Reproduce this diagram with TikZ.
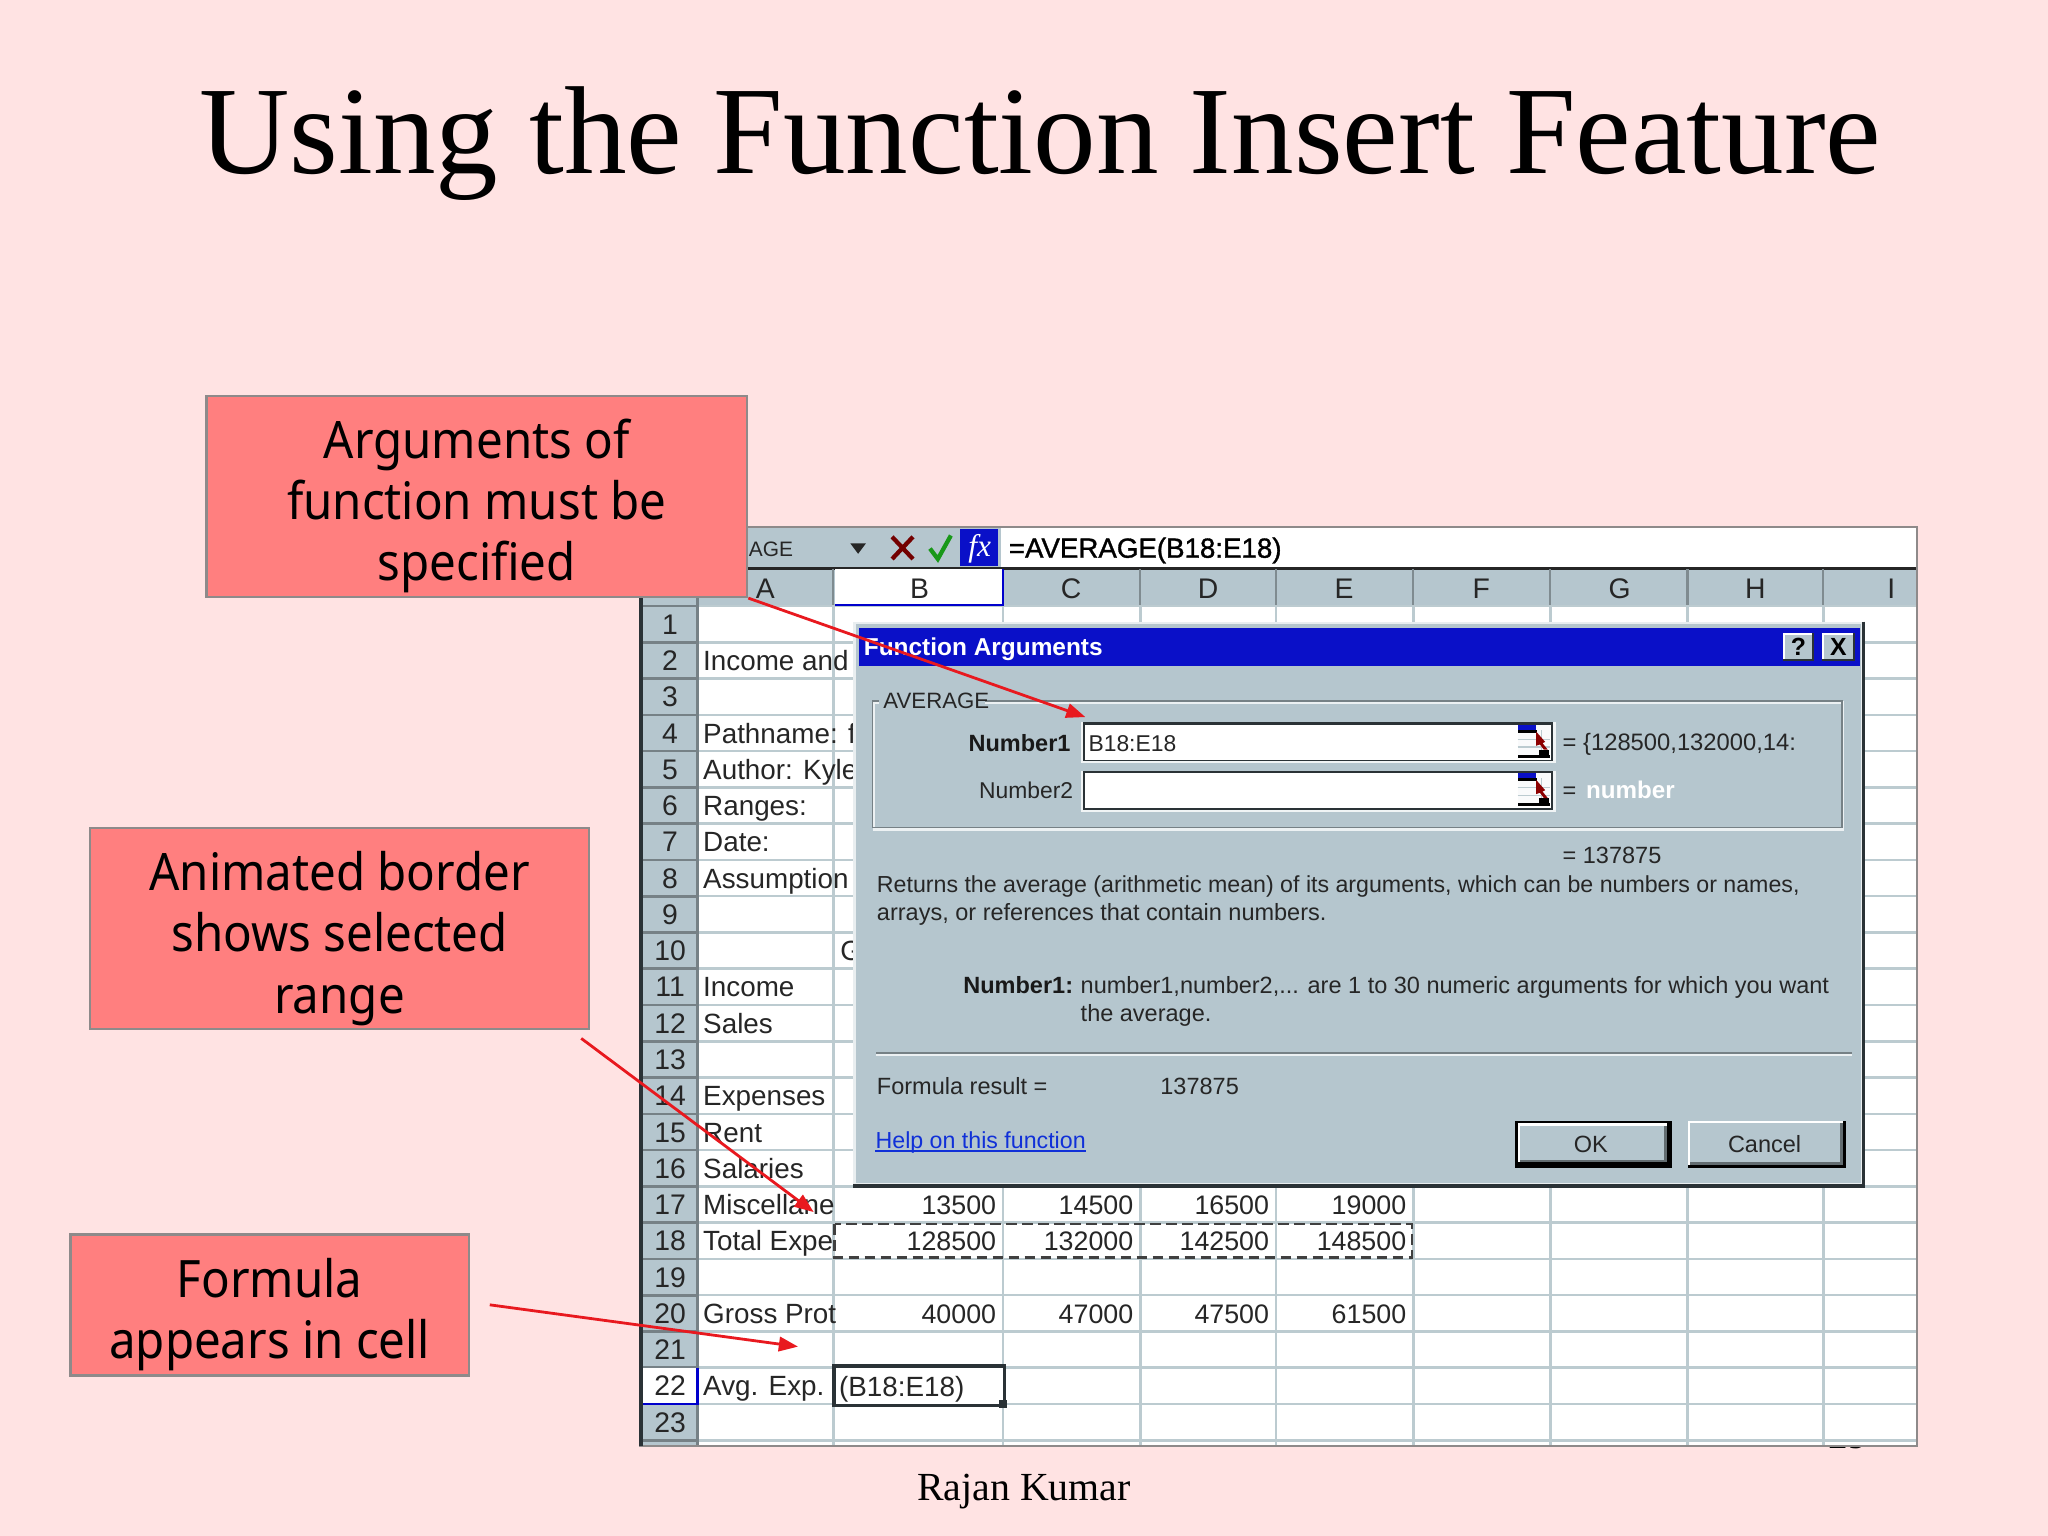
\documentclass[tikz,border=0pt]{standalone}
\usepackage{fontspec}
\usetikzlibrary{arrows.meta}
\setmainfont{Liberation Sans}
\newfontfamily\timesf{Liberation Serif}
\newfontfamily\callf[FakeStretch=0.92]{Noto Sans}
\newfontfamily\fakeb[FakeBold=1.2]{Liberation Sans}
\newcommand\fs[1]{\fontsize{\fpeval{#1*0.489796}pt}{\fpeval{#1*0.489796*1.17}pt}\selectfont}
\newcommand\fsl[2]{\fontsize{\fpeval{#1*0.489796}pt}{\fpeval{#2*0.489796}pt}\selectfont}
\newcommand\topadj{\rule{0pt}{22pt}}
\definecolor{slidebg}{HTML}{FFE3E3}
\definecolor{callfill}{HTML}{FF7F7F}
\definecolor{callline}{HTML}{8E8A8A}
\definecolor{xlgrey}{HTML}{B5C6CE}
\definecolor{xlgrid}{HTML}{BCCBD0}
\definecolor{xldark}{HTML}{2A3236}
\definecolor{tbar}{HTML}{0A10C8}
\definecolor{arrred}{HTML}{E8191F}
\definecolor{lnk}{HTML}{1030D8}
\tikzset{
  every node/.style={inner sep=0pt},
  callout/.style 2 args={draw=callline,fill=callfill,line width=0.9pt,minimum width={#1*0.489796pt},minimum height={#2*0.489796pt},align=center,font=\callf\fsl{39.5}{47},text=black},
  redarrow/.style={draw=arrred,line width=1.05pt,-{Triangle[length=7.2pt,width=5.4pt]}},
  celltxt/.style={anchor=base west,font=\fs{21.3},text=black!85},
  cellnum/.style={anchor=base east,font=\fs{20.5},text=black!85},
  hdr/.style={anchor=base,font=\fs{21.7},text=black!85},
  dlg/.style={anchor=base west,font=\fs{18},text=black!85},
  dlgb/.style={anchor=base east,font=\fs{18}\bfseries,text=black!90},
  gridline/.style={draw=xlgrid,line width=0.95pt},
}
\newcommand\refedit[2]{%
  \begin{scope}[shift={(#1,#2)}]
    \fill[white!92!xlgrey] (0,0) rectangle (25,25);
    \fill[tbar] (0,0) rectangle (14,4);
    \fill[black] (0,4) rectangle (15,6);
    \draw[xlgrid,line width=0.5pt] (0,11) -- (25,11) (0,17) -- (25,17) (18,4) -- (18,24);
    \fill[black] (0,23) rectangle (25,25);
    \fill[black] (16,19) rectangle (24,23);
    \fill[red!55!black] (14,5) -- (21,13) -- (19,14) -- (23,19) -- (20,19) -- (17,15) -- (14,16) -- cycle;
  \end{scope}}
\begin{document}
\begin{tikzpicture}[x=0.489796pt,y=-0.489796pt]
\useasboundingbox (0,0) rectangle (1568,1176);
\fill[slidebg] (0,0) rectangle (1568,1176);
% slide text
\node (title) at (796.5,133) [anchor=base,font=\timesf\fs{95.8},text=black] {Using the Function Insert Feature};
\node (author) at (784,1148.5) [anchor=base,font=\timesf\fs{30.5},text=black] {Rajan Kumar};
\node (pageno) at (1415,1109) [anchor=base,font=\timesf\fs{30},text=black] {29};
% spreadsheet frame
\fill[white] (489,403) rectangle (1468,1107);
\fill[xlgrey] (489,404) rectangle (766,434);
\draw[callline,line width=0.8pt] (489,403.5) -- (1468,403.5) -- (1468,1107) -- (489,1107);
\fill[xlgrey] (491,436) rectangle (1467,463);
\draw[black!85,line width=1.1pt] (491,435) -- (1467,435);
\fill[xlgrey] (492,436) rectangle (534,1106);
\fill[xldark] (489,436) rectangle (492,1107);
% grid
\foreach \r in {0,...,23} \draw[gridline] (534,{464+27.77*\r}) -- (1467,{464+27.77*\r});
\foreach \c in {638,768,873,977,1082,1187,1292,1396} \draw[gridline] (\c,464) -- (\c,1106);
\foreach \r in {0,...,23} \draw[draw=black!35!xlgrey,line width=1pt] (492,{464+27.77*\r}) -- (534,{464+27.77*\r});
\draw[draw=black!35!xlgrey,line width=1pt] (534,436) -- (534,1106);
\foreach \c in {638,768,873,977,1082,1187,1292,1396} \draw[draw=black!30!xlgrey,line width=0.8pt] (\c,436) -- (\c,463);
% active headers
\fill[white] (639,436) rectangle (768,463);
\draw[blue!80!black,line width=0.8pt] (639,463) -- (768,463) -- (768,436);
\fill[white] (492,1047) rectangle (534,1075);
\draw[blue!80!black,line width=0.8pt] (492,1075) -- (534,1075) -- (534,1047);
% formula bar
\node (nmbox) at (573,426) [anchor=base west,font=\fs{16},text=black!85] {AGE};
\fill[black!85] (651,416) -- (663,416) -- (657,424) -- cycle;
\draw[red!45!black,line width=1.6pt] (683,411) -- (699,428) (699,411) -- (683,428);
\draw[green!55!black!90,line width=1.6pt] (712,420) -- (718,428) -- (728,410);
\fill[tbar] (735,405) rectangle (764,433);
\node (fxlbl) at (750,426) [anchor=base,font=\timesf\fs{24}\itshape,text=white] {fx};
\node (fbar) at (772,427) [anchor=base west,font=\fakeb\fs{21.2},text=black] {=AVERAGE(B18:E18)};
% column headers
\foreach \t/\x in {A/586,B/704,C/820,D/925,E/1029,F/1134,G/1240,H/1344,I/1448}
  \node (col\t) at (\x,458) [hdr] {\t};
% row headers
\foreach \i in {1,...,23}
  \node (row\i) at (513,{464+27.77*(\i-0.5)+7.7}) [hdr] {\i};
% column A
\foreach \i/\t in {2/Income and,4/Pathname: f,5/Author: Kyle,6/Ranges:,7/Date:,8/Assumption,11/Income,12/Sales,14/Expenses,15/Rent,16/Salaries,17/Miscellane,18/Total Expe,20/Gross Prot,22/Avg. Exp.}
  \node (lbl\i) at (538,{464+27.77*(\i-0.5)+7.7}) [celltxt] {\t};
\node (lblG) at (643,735) [celltxt] {G};
% values
\foreach \x/\v/\k in {763/13500/b,868/14500/c,972/16500/d,1077/19000/e}
  \node (v17\k) at (\x,{464+27.77*16.5+7.7}) [cellnum] {\v};
\foreach \x/\v/\k in {763/128500/b,868/132000/c,972/142500/d,1077/148500/e}
  \node (v18\k) at (\x,{464+27.77*17.5+7.7}) [cellnum] {\v};
\foreach \x/\v/\k in {763/40000/b,868/47000/c,972/47500/d,1077/61500/e}
  \node (v20\k) at (\x,{464+27.77*19.5+7.7}) [cellnum] {\v};
% selection
\draw[black!75,line width=1pt,dash pattern=on 4pt off 2pt] (639,937) rectangle (1081,963);
\fill[white] (639,1047) rectangle (769,1076);
\node (activ) at (642,1069) [celltxt] {(B18:E18)};
\draw[xldark,line width=1.3pt] (638.5,1076) -- (638.5,1046) -- (769,1046) -- (769,1076) -- cycle;
\fill[xldark] (765,1072) rectangle (771,1078);
% dialog
\fill[white!70!xlgrey] (653,476) rectangle (1427,908);
\fill[xlgrey] (655,478) rectangle (1425,906);
\draw[xldark,line width=1.2pt] (1427,476) -- (1427,908) -- (653,908);
\fill[tbar] (658,481) rectangle (1424,510);
\node (dtitle) at (661,501.5) [anchor=base west,font=\fs{18.7}\bfseries,text=white] {Function Arguments};
\foreach \a/\b/\s/\n in {1365/1389/?/hlp,1395/1420/X/cls}{
  \fill[xldark] (\a,485) rectangle (\b,506);
  \fill[white] (\a,485) rectangle ({\b-1.5},504.5);
  \fill[xlgrey] ({\a+1.5},486.5) rectangle ({\b-1.5},504.5);
  \node (\n) at ({(\a+\b)/2},502) [anchor=base,font=\fs{19}\bfseries,text=black] {\s};
}
% group box
\draw[white!75!xlgrey,line width=0.9pt] (669,538) rectangle (1411,635);
\draw[black!35!xlgrey,line width=0.7pt] (668,536.5) -- (1410,536.5) -- (1410,633.5) -- (668,633.5) -- cycle;
\fill[xlgrey] (673,530) rectangle (754,541);
\node (grp) at (676,542.5) [dlg,font=\fs{17}] {AVERAGE};
\node (n1) at (820,575) [dlgb] {Number1};
\node (n2) at (822,611) [anchor=base east,font=\fs{17.5},text=black!85] {Number2};
\foreach \ya/\yb/\yicon in {553/583/555,590/620/592}{
  \fill[white!80!xlgrey] (828,\ya) rectangle (1191,{\yb+1.5});
  \fill[xldark] (829,\ya) rectangle (1189,\yb);
  \fill[white] (830.5,{\ya+2}) rectangle (1187.5,{\yb-1.5});
  \refedit{1162}{\yicon}
}
\node (in1) at (833,575) [dlg,font=\fs{17.5}] {B18:E18};
\node (r1) at (1196,574.5) [dlg,font=\fs{18.2}] {= \{128500,132000,14:};
\node (r2eq) at (1196,611) [dlg] {=};
\node (r2) at (1214,611) [anchor=base west,font=\fs{18.5}\bfseries,text=white] {number};
\node (r3) at (1196,661) [dlg] {= 137875};
\node (d1) at (671,683) [dlg,font=\fs{17.75}] {Returns the average (arithmetic mean) of its arguments, which can be numbers or names,};
\node (d2) at (671,704.5) [dlg] {arrays, or references that contain numbers.};
\node (h1) at (822,761) [dlgb] {Number1:};
\node (h2) at (827,761) [dlg] {number1,number2,... are 1 to 30 numeric arguments for which you want};
\node (h3) at (827,782) [dlg] {the average.};
\draw[black!35!xlgrey,line width=0.7pt] (671,806.5) -- (1418,806.5);
\draw[white!75!xlgrey,line width=0.7pt] (671,808) -- (1418,808);
\node (fr) at (671,838) [dlg] {Formula result =};
\node (fv) at (888,838) [dlg] {137875};
\node (help) at (670,879) [dlg,font=\fs{17.75},text=lnk] {Help on this function};
\draw[lnk,line width=0.6pt] ([yshift=-1pt]help.base west) -- ([yshift=-1pt]help.base east);
% buttons
\fill[black] (1160,858) rectangle (1280,894);
\fill[white] (1162,860) rectangle (1276,890);
\fill[black!45!xlgrey] (1164,862) rectangle (1276,890);
\fill[xlgrey] (1164,862) rectangle (1274,888);
\node (ok) at (1218,882) [anchor=base,font=\fs{18},text=black!85] {OK};
\fill[black] (1292,858) rectangle (1413,894);
\fill[white] (1292,858) rectangle (1411,892);
\fill[black!45!xlgrey] (1294,860) rectangle (1411,892);
\fill[xlgrey] (1294,860) rectangle (1409,890);
\node (cancel) at (1351,882) [anchor=base,font=\fs{18},text=black!85] {Cancel};
% callouts
\node[callout={414}{154}] (b1) at (365,380) {\topadj Arguments of\\function must be\\specified};
\node[callout={382}{154}] (b2) at (260,711) {\topadj Animated border\\shows selected\\range};
\node[callout={305}{108}] (b3) at (206.5,999) {\topadj Formula\\appears in cell};
% arrows
\coordinate (a1end) at (831,549);
\coordinate (a2start) at (445,795);
\coordinate (a2end) at (623,928);
\coordinate (a3start) at (375,999);
\coordinate (a3end) at (611,1031);
\draw[redarrow] (b1.south east) -- (a1end);
\draw[redarrow] (a2start) -- (a2end);
\draw[redarrow] (a3start) -- (a3end);
\end{tikzpicture}
\end{document}
